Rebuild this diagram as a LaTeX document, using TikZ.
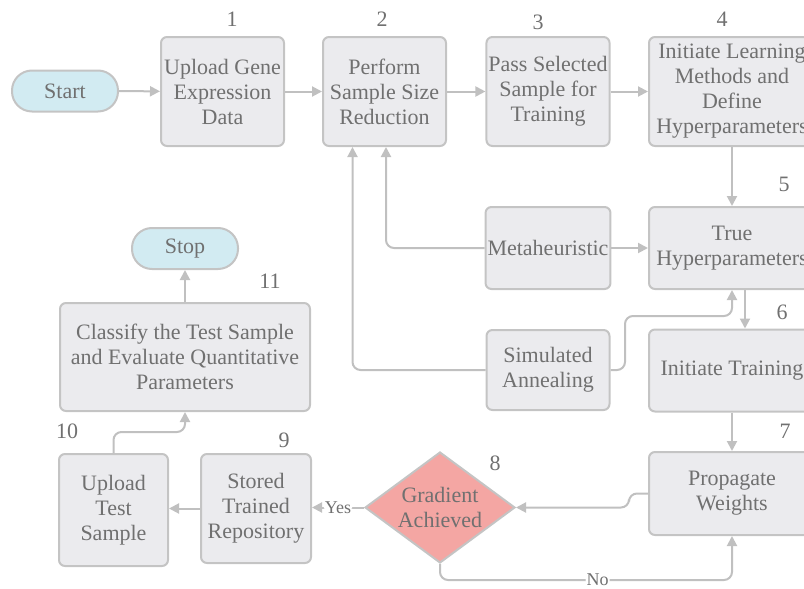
\documentclass[tikz,border=0pt]{standalone}
\usepackage{fontspec}
\setmainfont{Liberation Serif}
\newfontfamily\flowfont{Liberation Serif}
\usetikzlibrary{shapes.geometric, arrows.meta, positioning, calc}
\definecolor{flowText}{HTML}{707070}
\definecolor{flowBorder}{HTML}{C4C4C4}
\definecolor{flowFill}{HTML}{EBEBEE}
\definecolor{flowArrow}{HTML}{C0C0C0}
\definecolor{termBlue}{HTML}{D2EBF2}
\definecolor{decisionRed}{HTML}{F4A6A3}

\begin{document}
\begin{tikzpicture}[x=0.5pt, y=-0.5pt,
    box/.style={draw=flowBorder, line width=1pt, fill=flowFill, rounded corners=3pt, minimum width=61.5pt, minimum height=54.5pt, align=center, inner sep=1pt, text=flowText, font=\flowfont\fontsize{11}{12.5}\selectfont},
    wide/.style={box, minimum width=83pt, minimum height=41pt},
    term/.style={box, fill=termBlue, rounded corners=10pt, minimum width=53pt, minimum height=20.5pt},
    cond/.style={diamond, draw=flowBorder, line width=1pt, fill=decisionRed, shape aspect=1.4, minimum width=75pt, minimum height=55.5pt, inner sep=0pt, align=center, text=flowText, font=\flowfont\fontsize{11}{12.5}\selectfont},
    num/.style={text=flowText, inner sep=0pt, font=\flowfont\fontsize{11}{13}\selectfont},
    arr/.style={-{Triangle[length=5pt,width=5pt]}, line width=1pt, draw=flowArrow, rounded corners=4pt},
    tag/.style={fill=white, inner sep=0.5pt, text=flowText, font=\flowfont\fontsize{9}{10}\selectfont},
]
    \useasboundingbox (0,0) rectangle (804,589);

    \node[term] (start) at (65,91) {Start};
    \node[box] (upl) at (222.5,91.5) {Upload Gene\\Expression\\Data};
    \node[box] (perf) at (384.5,91.5) {Perform\\Sample Size\\Reduction};
    \node[box] (pass) at (548,91.5) {Pass Selected\\Sample for\\Training};
    \node[box, minimum width=83pt] (init) at (732,91.5) {Initiate Learning\\Methods and\\Define\\Hyperparameters};
    \node[wide] (true) at (732,248) {True\\Hyperparameters};
    \node[box, minimum height=41pt] (meta) at (548,248) {Metaheuristic};
    \node[box, minimum height=40pt] (anneal) at (548,370) {Simulated\\Annealing};
    \node[wide] (train) at (732,370.5) {Initiate Training};
    \node[wide, minimum height=41.5pt] (prop) at (732,493.5) {Propagate\\Weights};
    \node[cond] (grad) at (440,507.5) {Gradient\\Achieved};
    \node[box, minimum width=55pt] (store) at (256,508.5) {Stored\\Trained\\Repository};
    \node[box, minimum width=54.5pt, minimum height=56pt] (uptest) at (113.5,510) {Upload\\Test\\Sample};
    \node[box, minimum width=125pt, minimum height=54pt] (classify) at (185,357) {Classify the Test Sample\\and Evaluate Quantitative\\Parameters};
    \node[term] (stop) at (185,248.5) {Stop};

    \node[num] (n1) at (232,19) {1};
    \node[num] (n2) at (382,19) {2};
    \node[num] (n3) at (538,22) {3};
    \node[num] (n4) at (722,19) {4};
    \node[num] (n5) at (784,184) {5};
    \node[num] (n6) at (782,312) {6};
    \node[num] (n7) at (785,431) {7};
    \node[num] (n8) at (495,463) {8};
    \node[num] (n9) at (284,440) {9};
    \node[num] (n10) at (67,431) {10};
    \node[num] (n11) at (270,281) {11};

    \draw[arr] (start) -- (upl);
    \draw[arr] (upl) -- (perf);
    \draw[arr] (perf) -- (pass);
    \draw[arr] (pass) -- (init);
    \draw[arr] (init) -- (true);
    \draw[arr] (meta) -- (true);
    \draw[arr] (meta.west) -| ([xshift=0.75pt]perf.south);
    \draw[arr] (anneal.west) -| ([xshift=-16pt]perf.south);
    \coordinate (jog) at (625,316);
    \draw[arr] (anneal.east) -| (jog) -| (true.south);
    \draw[arr] ([xshift=6.5pt]true.south) -- ([xshift=6.5pt]train.north);
    \draw[arr] (train) -- (prop);
    \draw[arr] (prop.west) -- ++(-19,0) |- (grad.east);
    \draw[arr] (grad.south) -- (grad.south |- 0,580) -| (prop.south) node[tag, pos=0.27] {No};
    \draw[arr] (grad.west) -- (grad.west -| store.east) node[tag, midway] {Yes};
    \draw[arr] (store.west) -- (store.west -| uptest.east);
    \draw[arr] (uptest.north) -- ++(0,-21) -| (classify.south);
    \draw[arr] (classify) -- (stop);
\end{tikzpicture}
\end{document}
